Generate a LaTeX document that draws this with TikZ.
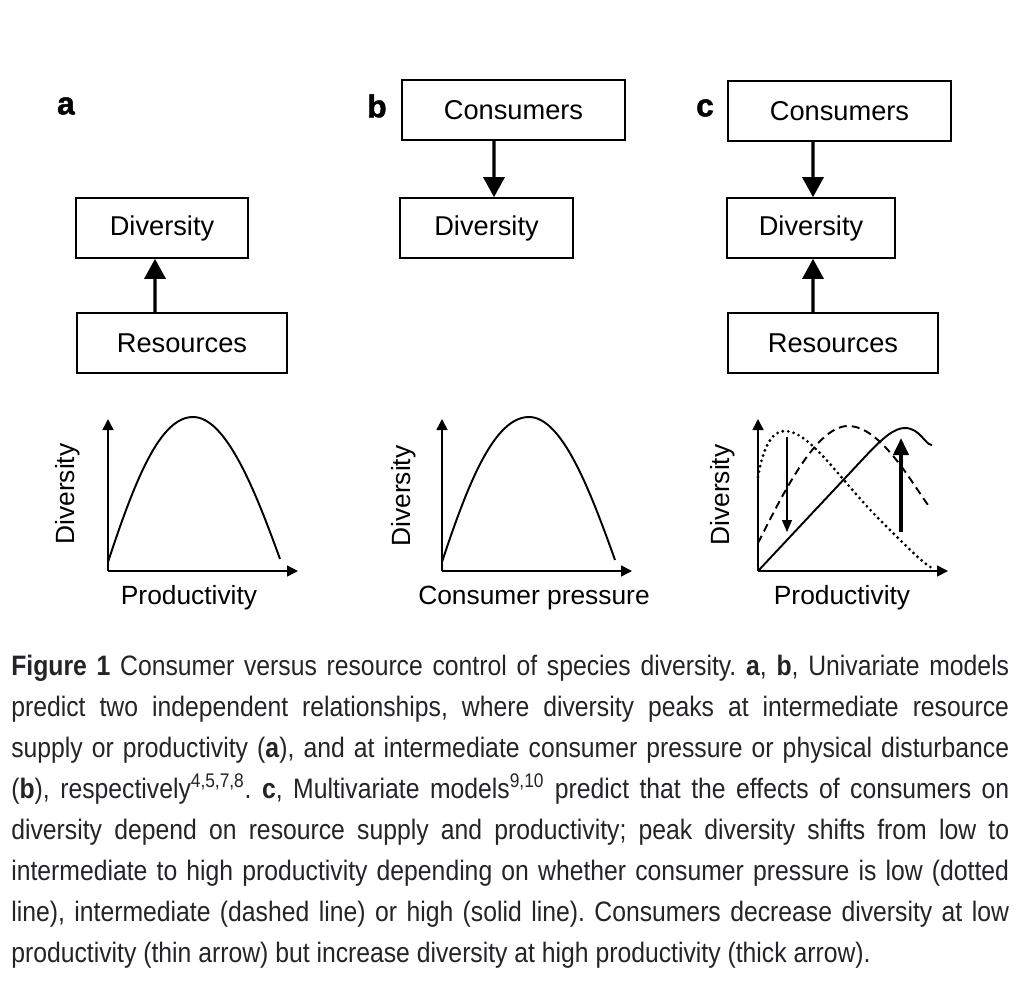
\documentclass[tikz,border=0pt]{standalone}
\usepackage{fontspec}
\setmainfont{Liberation Sans}
\newfontfamily\capfont[FakeStretch=0.88]{Liberation Sans}
\newfontfamily\panelfont[FakeBold=1.5]{Liberation Sans Bold}
\usepackage{xcolor}
\usetikzlibrary{arrows.meta,positioning,calc}
\definecolor{CapGray}{RGB}{35,35,40}
\frenchspacing
\tikzset{
  varbox/.style={draw=black,line width=0.9pt,minimum height=1.2cm,inner sep=0pt,
                 font=\fontsize{15.5}{17}\selectfont},
  panel/.style={font=\panelfont\fontsize{18}{20}\selectfont},
  link/.style={-{Triangle[length=4mm,width=4.2mm]},line width=1.8pt},
  axis/.style={-{Triangle[length=2.2mm,width=2.2mm]},line width=0.9pt},
  curve/.style={line width=1.1pt},
  dashcurve/.style={curve,dash pattern=on 1.6mm off 1mm},
  dotcurve/.style={line width=1.8pt,dash pattern=on 0pt off 1.1mm,line cap=round},
  thinarr/.style={-{Triangle[length=2.4mm,width=2mm]},line width=0.6pt},
  thickarr/.style={-{Triangle[length=3.4mm,width=3mm]},line width=2.2pt},
  axlbl/.style={font=\fontsize{15}{17}\selectfont},
}

\begin{document}
\begin{tikzpicture}[x=0.02cm,y=-0.02cm]
  \useasboundingbox (0,0) rectangle (1020,990);

  % panel a
  \node[panel] (la) at (66,106) {a};
  \node[varbox,minimum width=3.44cm] (divA) at (162,228) {Diversity\hspace{0.14cm}};
  \node[varbox,minimum width=4.2cm] (resA) at (182,343) {Resources\hspace{0.28cm}};
  \draw[link] ([xshift=-0.54cm]resA.north) -- ([xshift=-0.14cm]divA.south);

  % panel b
  \node[panel] (lb) at (377,106) {b};
  \node[varbox,minimum width=4.46cm] (conB) at (513.5,110) {Consumers\hspace{0.18cm}};
  \node[varbox,minimum width=3.46cm] (divB) at (486.5,228) {Diversity\hspace{0.24cm}};
  \draw[link] ([xshift=-0.39cm]conB.south) -- ([xshift=0.15cm]divB.north);

  % panel c
  \node[panel] (lc) at (705,108) {c};
  \node[varbox,minimum width=4.46cm] (conC) at (839.5,111) {Consumers\hspace{0.18cm}};
  \node[varbox,minimum width=3.36cm] (divC) at (811,228) {Diversity};
  \node[varbox,minimum width=4.2cm] (resC) at (833,343) {Resources};
  \draw[link] ([xshift=-0.53cm]conC.south) -- ([xshift=0.04cm]divC.north);
  \draw[link] ([xshift=-0.4cm]resC.north) -- ([xshift=0.04cm]divC.south);

  % plot a
  \coordinate (oA) at (108,571);
  \draw[axis] (oA) -- (108,419);
  \draw[axis] (oA) -- (298,571);
  \draw[curve] (108,562) .. controls (135,480) and (160,417) .. (193,417)
                         .. controls (226,417) and (255,490) .. (280,559);
  \node[axlbl] (pA) at (189,598) {Productivity};
  \node[axlbl,rotate=90] (yA) at (68,494) {Diversity};

  % plot b
  \coordinate (oB) at (442,571);
  \draw[axis] (oB) -- (442,419);
  \draw[axis] (oB) -- (632,571);
  \draw[curve] (442,562) .. controls (469,480) and (495,417) .. (529,417)
                         .. controls (562,417) and (590,490) .. (615,560);
  \node[axlbl] (pB) at (534,598) {Consumer pressure};
  \node[axlbl,rotate=90] (yB) at (404,496) {Diversity};

  % plot c
  \coordinate (oC) at (758,571);
  \draw[axis] (oC) -- (758,419);
  \draw[axis] (oC) -- (948,571);
  \draw[curve] (oC) -- (862,460) .. controls (884,436) and (895,428) .. (905,428)
                    .. controls (920,428) and (925,445) .. (932,445);
  \draw[dashcurve] (758,543) .. controls (780,500) and (815,426) .. (848,426)
                             .. controls (880,426) and (910,480) .. (928,505);
  \draw[dotcurve] (758,477) .. controls (764,442) and (774,431) .. (785,431)
                            .. controls (810,431) and (840,480) .. (880,520)
                            .. controls (910,550) and (924,564) .. (932,568);
  \coordinate (thinTop) at (787,437);
  \coordinate (thinBot) at (787,532);
  \draw[thinarr] (thinTop) -- (thinBot);
  \coordinate (thickBot) at (901,532);
  \coordinate (thickTop) at (901,438);
  \draw[thickarr] (thickBot) -- (thickTop);
  \node[axlbl] (pC) at (842,598) {Productivity};
  \node[axlbl,rotate=90] (yC) at (723,495) {Diversity};

  % caption
  \node[anchor=north west,text width=19.96cm,align=justify,inner sep=0pt,
        text=CapGray,font=\capfont\fontsize{16}{23.3}\selectfont] (cap) at (11,655)
  {\textbf{Figure 1} Consumer versus resource control of species diversity. \textbf{a}, \textbf{b}, Univariate models\linebreak
   predict two independent relationships, where diversity peaks at intermediate resource\linebreak
   supply or productivity (\textbf{a}), and at intermediate consumer pressure or physical disturbance\linebreak
   (\textbf{b}), respectively\textsuperscript{4,5,7,8}. \textbf{c}, Multivariate models\textsuperscript{9,10} predict that the effects of consumers on\linebreak
   diversity depend on resource supply and productivity; peak diversity shifts from low to\linebreak
   intermediate to high productivity depending on whether consumer pressure is low (dotted\linebreak
   line), intermediate (dashed line) or high (solid line). Consumers decrease diversity at low\linebreak
   productivity (thin arrow) but increase diversity at high productivity (thick arrow).};
\end{tikzpicture}
\end{document}
